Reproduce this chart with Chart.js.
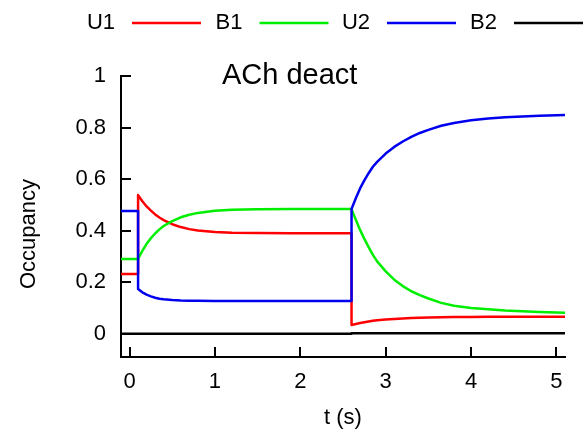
<!DOCTYPE html>
<html>
<head>
<meta charset="utf-8">
<script src="https://cdn.jsdelivr.net/npm/chart.js@4/dist/chart.umd.min.js"></script>
<style>
  html, body { margin: 0; padding: 0; background: #ffffff; }
  #wrap { width: 583px; height: 434px; }
</style>
</head>
<body>
<div id="wrap"><canvas id="c" width="583" height="434"></canvas></div>
<script>
// Time samples (s); repeated times mark the instantaneous jumps at 0.1 s and 2.6 s
const time = [-0.1, 0.1,
              0.1, 0.15, 0.2, 0.25, 0.3, 0.35, 0.4, 0.5, 0.6, 0.7, 0.8, 1.0, 1.2, 1.5, 1.9, 2.6,
              2.6, 2.65, 2.7, 2.75, 2.8, 2.85, 2.9, 3.0, 3.1, 3.2, 3.3, 3.4, 3.5, 3.65, 3.8, 4.0, 4.2, 4.4, 4.6, 4.8, 5.1];

const U1 = [0.232, 0.232,
            0.538, 0.514, 0.494, 0.478, 0.463, 0.451, 0.441, 0.425, 0.414, 0.406, 0.401, 0.395, 0.392, 0.391, 0.390, 0.390,
            0.034, 0.038, 0.042, 0.045, 0.048, 0.051, 0.053, 0.055, 0.057, 0.059, 0.061, 0.062, 0.063, 0.064, 0.065, 0.065, 0.066, 0.066, 0.066, 0.066, 0.066];

const B1 = [0.290, 0.290,
            0.290, 0.322, 0.349, 0.371, 0.389, 0.405, 0.418, 0.437, 0.452, 0.462, 0.469, 0.477, 0.481, 0.483, 0.484, 0.484,
            0.484, 0.442, 0.403, 0.368, 0.336, 0.306, 0.281, 0.242, 0.210, 0.185, 0.165, 0.150, 0.137, 0.120, 0.109, 0.100, 0.095, 0.090, 0.087, 0.085, 0.082];

const U2 = [0.476, 0.476,
            0.174, 0.161, 0.152, 0.145, 0.140, 0.136, 0.134, 0.131, 0.129, 0.128, 0.128, 0.127, 0.127, 0.127, 0.127, 0.127,
            0.484, 0.526, 0.564, 0.595, 0.623, 0.648, 0.667, 0.699, 0.725, 0.746, 0.764, 0.779, 0.791, 0.807, 0.818, 0.828, 0.835, 0.840, 0.843, 0.846, 0.849];

const B2 = [0, 0,
            0, 0, 0, 0, 0, 0, 0, 0, 0, 0, 0, 0, 0, 0, 0, 0,
            0.002, 0.002, 0.002, 0.002, 0.002, 0.002, 0.002, 0.002, 0.002, 0.002, 0.002, 0.002, 0.002, 0.002, 0.002, 0.002, 0.002, 0.002, 0.002, 0.002, 0.002];

const seriesNames = ['U1', 'B1', 'U2', 'B2'];
const seriesColors = ['#ff0000', '#00ee00', '#0000ee', '#000000'];
const xTickValues = [0, 1, 2, 3, 4, 5];
const yTickValues = [0, 0.2, 0.4, 0.6, 0.8, 1];

const FONT = '"Liberation Sans", Arial, Helvetica, sans-serif';

const toPoints = arr => arr.map((v, i) => ({ x: time[i], y: v }));
const values = [U1, B1, U2, B2];

const datasets = seriesNames.map((name, i) => ({
  label: name,
  data: toPoints(values[i]),
  borderColor: seriesColors[i],
  backgroundColor: seriesColors[i],
  borderWidth: 2.5,
  pointRadius: 0,
  tension: 0,
  fill: false,
  borderJoinStyle: 'round',
  // later series are painted over earlier ones
  order: seriesNames.length - i
}));

// gnuplot-style key (label then line sample), title and rotated y label
const textPlugin = {
  id: 'texts',
  afterDraw(chart) {
    const ctx = chart.ctx;
    const starts = [132, 259.5, 387, 514];
    ctx.save();
    ctx.font = '22px ' + FONT;
    ctx.fillStyle = '#000';
    ctx.textAlign = 'right';
    ctx.textBaseline = 'middle';
    seriesNames.forEach((name, i) => {
      const y = 23;
      ctx.fillText(name, starts[i] - 17, y);
      ctx.strokeStyle = seriesColors[i];
      ctx.lineWidth = 2.5;
      ctx.beginPath();
      ctx.moveTo(starts[i], y);
      ctx.lineTo(starts[i] + 69, y);
      ctx.stroke();
    });
    ctx.font = '29px ' + FONT;
    ctx.textAlign = 'left';
    ctx.fillText('ACh deact', 222, 76);

    ctx.font = '22px ' + FONT;
    ctx.textAlign = 'center';
    ctx.translate(29, 234);
    ctx.rotate(-Math.PI / 2);
    ctx.fillText('Occupancy', 0, 0);
    ctx.restore();
  }
};

// tick marks pointing into the plot
const innerTicks = {
  id: 'innerTicks',
  afterDraw(chart) {
    const ctx = chart.ctx;
    const xs = chart.scales.x, ys = chart.scales.y;
    const area = chart.chartArea;
    ctx.save();
    ctx.strokeStyle = '#000';
    ctx.lineWidth = 2;
    ctx.beginPath();
    xs.ticks.forEach(t => {
      const px = Math.round(xs.getPixelForValue(t.value));
      ctx.moveTo(px, area.bottom);
      ctx.lineTo(px, area.bottom - 10);
    });
    ys.ticks.forEach(t => {
      const py = Math.round(ys.getPixelForValue(t.value));
      ctx.moveTo(area.left, py);
      ctx.lineTo(area.left + 10, py);
    });
    ctx.stroke();
    ctx.restore();
  }
};

new Chart(document.getElementById('c'), {
  type: 'line',
  data: { datasets },
  options: {
    responsive: false,
    animation: false,
    layout: { padding: { top: 76, right: 18, left: 0, bottom: 0 } },
    plugins: { legend: { display: false }, tooltip: { enabled: false } },
    scales: {
      x: {
        type: 'linear',
        min: -0.1,
        max: 5.1,
        afterBuildTicks: s => { s.ticks = xTickValues.map(v => ({ value: v })); },
        afterFit: s => { s.height = 77; },
        ticks: {
          color: '#000',
          font: { family: FONT, size: 22 },
          padding: 12,
          maxRotation: 0,
          callback: v => String(v)
        },
        grid: { drawOnChartArea: false, drawTicks: false },
        border: { display: true, color: '#000', width: 2 },
        title: {
          display: true,
          text: 't (s)',
          color: '#000',
          font: { family: FONT, size: 22 },
          padding: { top: 0, bottom: 3 }
        }
      },
      y: {
        type: 'linear',
        min: -0.09,
        max: 1,
        afterBuildTicks: s => { s.ticks = yTickValues.map(v => ({ value: v })); },
        afterFit: s => { s.width = 121; },
        ticks: {
          color: '#000',
          font: { family: FONT, size: 22 },
          padding: 15,
          callback: v => String(+(+v).toFixed(1))
        },
        grid: { drawOnChartArea: false, drawTicks: false },
        border: { display: true, color: '#000', width: 2 }
      }
    }
  },
  plugins: [textPlugin, innerTicks]
});
</script>
</body>
</html>
